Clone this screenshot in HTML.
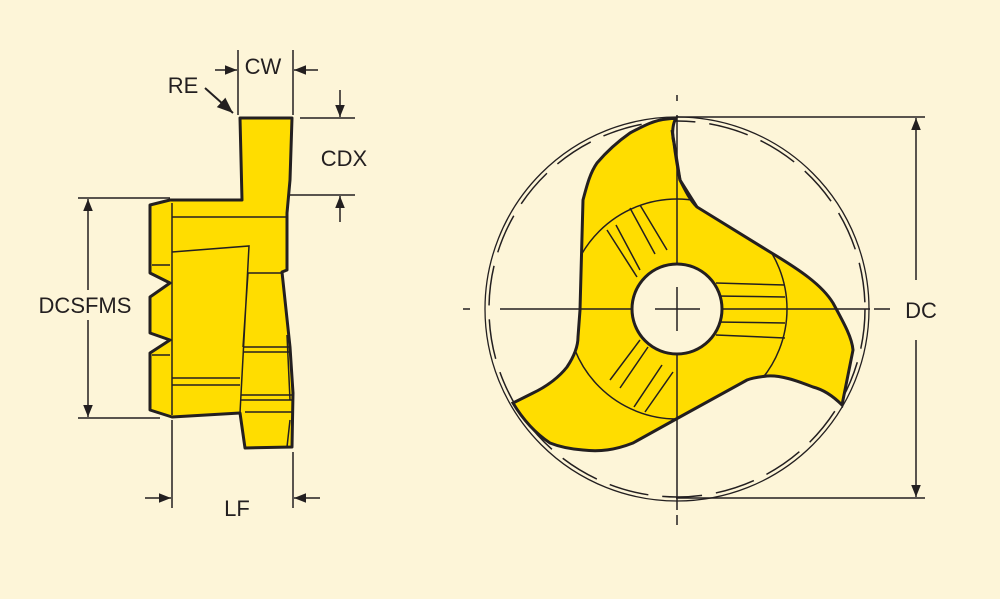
<!DOCTYPE html>
<html><head><style>
body{margin:0;background:#fdf5d8;}
svg{display:block}
text{font-family:"Liberation Sans",Arial,sans-serif;font-size:22px;fill:#231f20}
</style></head><body>
<svg width="1000" height="599" viewBox="0 0 1000 599" xmlns="http://www.w3.org/2000/svg">
<defs>
<marker id="a" viewBox="0 0 10 10" refX="10" refY="5" markerWidth="8" markerHeight="8" orient="auto-start-reverse"><path d="M0,1 L10,5 L0,9 z" fill="#231f20"/></marker>
<clipPath id="cp"><path id="blade" d="M676,118 C672,125 672,136 674,143 C676,160 678,170 680,180 C686,192 690,200 697,207 L770,252 C800,270 822,285 833,303 C845,325 852,338 853,350 L842,405 C835,398 825,390 813,387 C795,380 780,375 767,376 C758,377 752,378 747,380 L678,418 L633,443 C615,450 600,452 583,450 C570,449 560,447 550,443 C535,433 522,418 513,403 L533,393 C548,386 560,376 567,367 C575,355 578,345 578,337 L580,310 L583,200 C587,185 590,173 597,163 C608,150 620,140 630,133 C645,125 655,120 667,119 Z"/></clipPath>
</defs>
<g fill="none" stroke="#231f20" stroke-width="1.5">
<!-- left view -->
<path d="M240,118 L292,118 L290,180 L287,213 L287,270 L282,272 L290,347 L293,393 L292,447 L245,448 L240,413 L172,417 L150,410 L150,353 L170,340 L150,333 L150,297 L170,283 L150,273 L150,205 L170,200 L242,200 Z" fill="#ffdd00" stroke-width="3" stroke-linejoin="round"/>
<path d="M172,217 L287,217 M172,203 L172,415 M172,252 L249,246 L240,413 M172,378 L240,378 M172,385 L240,385 M248,273 L282,273 M243,347 L290,347 M243,352 L290,352 M241,395 L293,395 M241,400 L293,400 M245,412 L292,412 M248,273 L243,347 M152,265 L170,265 M152,355 L170,355 M290,420 L287,447 M287,335 L290,400"/>
<!-- left dims -->
<path d="M238,50 L238,115 M293,50 L293,115 M300,118 L355,118 M290,195 L355,195 M78,198 L170,198 M78,418 L160,418 M172,420 L172,508 M293,452 L293,508"/>
<path d="M215,70 L237,70" marker-end="url(#a)"/><path d="M318,70 L294,70" marker-end="url(#a)"/>
<path d="M340,90 L340,117" marker-end="url(#a)"/><path d="M340,222 L340,196" marker-end="url(#a)"/>
<path d="M205,88 L233,113" marker-end="url(#a)" stroke-width="2"/>
<path d="M88,290 L88,199" marker-end="url(#a)"/><path d="M88,320 L88,417" marker-end="url(#a)"/>
<path d="M145,498 L171,498" marker-end="url(#a)"/><path d="M320,498 L294,498" marker-end="url(#a)"/>
<!-- right view -->
<circle cx="677" cy="309" r="192" stroke-width="1.3"/>
<circle cx="677" cy="309" r="188" stroke-width="1.5" stroke-dasharray="40 14"/>
<use href="#blade" fill="#ffdd00" stroke-width="3"/>
<g clip-path="url(#cp)">
<circle cx="677" cy="309" r="110" stroke-width="1.5"/>
<path d="M616,225 L640,270 M630,208 L655,254 M640,205 L667,250 M607,230 L637,277 M716,283 L785,285 M716,296 L785,297 M716,322 L785,323 M716,335 L785,338 M610,380 L640,340 M620,388 L648,347 M634,407 L662,365 M645,412 L673,372"/>
</g>
<path d="M672,130 L680,180 L697,207" stroke-width="3"/>
<circle cx="677" cy="309" r="45" fill="#fdf5d8" stroke-width="3"/>
<path d="M463,309 L470,309 M485,309 M500,309 L632,309 M722,309 L870,309 M855,309 L860,309 M874,309 L890,309" />
<path d="M655,309 L700,309 M677,287 L677,331 M677,95 L677,101 M677,115 L677,264 M677,354 L677,510 M677,515 L677,525"/>
<path d="M676,117 L925,117 M676,498 L925,498"/>
<path d="M916,280 L916,118" marker-end="url(#a)"/><path d="M916,340 L916,497" marker-end="url(#a)"/>
</g>
<text x="263" y="74" text-anchor="middle">CW</text>
<text x="183" y="93" text-anchor="middle">RE</text>
<text x="344" y="166" text-anchor="middle">CDX</text>
<text x="85" y="313" text-anchor="middle">DCSFMS</text>
<text x="237" y="516" text-anchor="middle">LF</text>
<text x="921" y="318" text-anchor="middle">DC</text>
</svg>
</body></html>
